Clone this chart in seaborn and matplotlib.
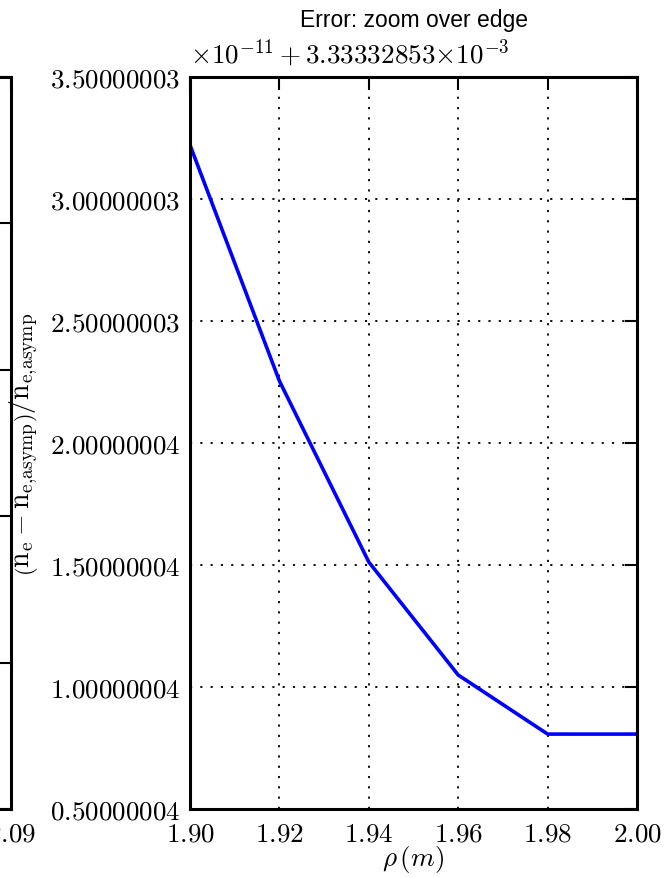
"""Zoomed error plot near the edge, classic matplotlib look."""
import matplotlib
matplotlib.use("Agg")
import matplotlib.pyplot as plt
import matplotlib.ticker as mticker
import pandas as pd
import seaborn as sns

# ── Data (y in units of 1e-11, offset 3.33332853e-3) ─────────────────
rho = [1.90, 1.92, 1.94, 1.96, 1.98, 2.00]
err = [3.221, 2.254, 1.512, 1.049, 0.807, 0.807]

x_ticks = [1.90, 1.92, 1.94, 1.96, 1.98, 2.00]
x_labels = ["1.90", "1.92", "1.94", "1.96", "1.98", "2.00"]
y_ticks = [0.5, 1.0, 1.5, 2.0, 2.5, 3.0, 3.5]
y_labels = ["0.50000004", "1.00000004", "1.50000004", "2.00000004",
            "2.50000003", "3.00000003", "3.50000003"]
offset_label = r"$\times10^{-11}+3.33332853{\times}10^{-3}$"

# neighbouring (cropped) panel
left_x_ticks = [2.09]
left_x_labels = ["2.09"]
left_y_ticks = [0, 1, 2, 3, 4, 5]

sns.set_style("white")
plt.rcParams.update({
    "font.family": ["Liberation Sans", "DejaVu Sans"],
    "mathtext.fontset": "cm",
    "text.color": "black",
    "axes.labelcolor": "black",
    "axes.titlecolor": "black",
    "axes.linewidth": 2.2,
    "axes.edgecolor": "black",
    "xtick.direction": "in",
    "ytick.direction": "in",
    "xtick.top": True,
    "ytick.right": True,
    "xtick.major.size": 9,
    "ytick.major.size": 9,
    "xtick.major.width": 1.5,
    "ytick.major.width": 1.5,
    "xtick.color": "black",
    "ytick.color": "black",
})

fig = plt.figure(figsize=(6.70, 8.79), dpi=100)

# ── cropped left panel ───────────────────────────────────────────────
axl = fig.add_axes([-0.6508, 0.0785, 0.6672, 0.8328])
axl.set_xlim(1.99, 2.09)
axl.set_ylim(0, 5)
axl.xaxis.set_major_locator(mticker.FixedLocator(left_x_ticks))
axl.xaxis.set_major_formatter(mticker.FixedFormatter([f"${s}$" for s in left_x_labels]))
axl.yaxis.set_major_locator(mticker.FixedLocator(left_y_ticks))
axl.set_yticklabels([])
axl.tick_params(axis="x", labelsize=19.5, pad=8)

# ── main panel ───────────────────────────────────────────────────────
ax = fig.add_axes([0.2836, 0.0785, 0.6672, 0.8328])
df = pd.DataFrame({"rho": rho, "err": err})
sns.lineplot(data=df, x="rho", y="err", ax=ax, color="#0000ff", linewidth=2.6)

ax.set_xlim(1.90, 2.00)
ax.set_ylim(0.5, 3.5)
ax.xaxis.set_major_locator(mticker.FixedLocator(x_ticks))
ax.xaxis.set_major_formatter(mticker.FixedFormatter([f"${s}$" for s in x_labels]))
ax.yaxis.set_major_locator(mticker.FixedLocator(y_ticks))
ax.yaxis.set_major_formatter(mticker.FixedFormatter([f"${s}$" for s in y_labels]))
ax.tick_params(axis="both", labelsize=19.5)
ax.tick_params(axis="x", pad=8)
ax.tick_params(axis="y", pad=7)
ax.grid(True, color="black", linestyle=(0, (1.2, 4.5)), linewidth=1.3)

ax.set_xlabel(r"$\rho\,(m)$", fontsize=19.5)
ax.xaxis.set_label_coords(0.5, -0.047)
ax.set_ylabel(r"$\left(\mathrm{n_e-n_{e{,}asymp}}\right)/\mathrm{n_{e{,}asymp}}$",
              fontsize=20)
ax.yaxis.set_label_coords(-0.333, 0.5)
ax.text(0.0, 1.012, offset_label, transform=ax.transAxes,
        ha="left", va="bottom", fontsize=19.5)
ax.set_title("Error: zoom over edge", fontsize=16.5, pad=37)

fig.savefig("out.png", dpi=100)
